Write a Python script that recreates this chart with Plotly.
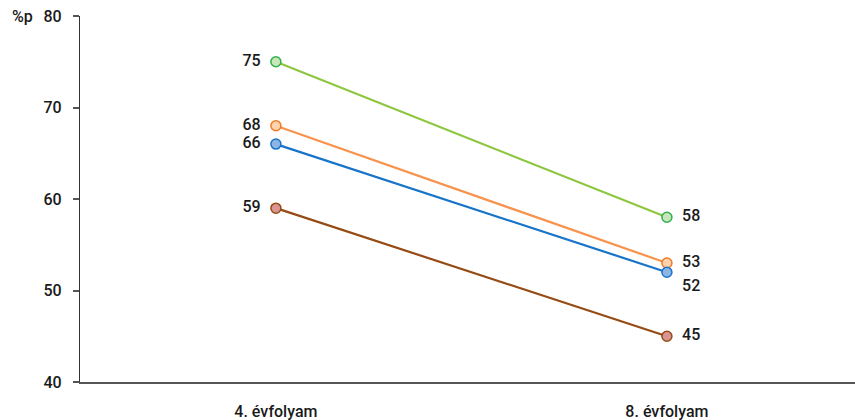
import plotly.graph_objects as go

# Grade levels on the x axis and the score (%p) per group
grades = ["4. évfolyam", "8. évfolyam"]
series_green = [75, 58]
series_orange = [68, 53]
series_blue = [66, 52]
series_brown = [59, 45]

y_ticks = [40, 50, 60, 70, 80]

styles = [
    (series_green, "#8DC63F", "#C9E6B8", "#2EB04E", ["middle left", "middle right"]),
    (series_orange, "#F7934C", "#FDD3AE", "#F07A23", ["middle left", "middle right"]),
    (series_blue, "#1874C8", "#8DB4E3", "#1874C8", ["middle left", "bottom right"]),
    (series_brown, "#964B14", "#D99594", "#964B14", ["middle left", "middle right"]),
]

FONT = dict(family="Roboto", size=16, color="#1a1a1a", weight=500)
PAD = "\u00a0\u00a0"

fig = go.Figure()
xpos = list(range(len(grades)))
for values, line_c, fill_c, edge_c, tpos in styles:
    labels = [str(values[0]) + PAD, PAD + str(values[1])]
    fig.add_trace(go.Scatter(
        x=xpos, y=values,
        mode="lines+markers+text",
        line=dict(color=line_c, width=2.2),
        marker=dict(size=10, color=fill_c, line=dict(color=edge_c, width=1.5)),
        text=labels,
        textposition=tpos,
        textfont=FONT,
        cliponaxis=False,
        showlegend=False,
        hoverinfo="skip",
    ))

fig.add_annotation(
    text="%p", xref="paper", yref="paper", x=-0.058, y=1.0,
    xanchor="right", yanchor="middle", showarrow=False,
    font=FONT,
)

fig.update_layout(
    width=855, height=420,
    margin=dict(l=80, r=0, t=16, b=38),
    paper_bgcolor="white", plot_bgcolor="white",
    font=FONT,
)
fig.update_xaxes(
    range=[-0.501, 1.481],
    tickvals=xpos, ticktext=grades,
    showgrid=False, zeroline=False,
    showline=True, linecolor="#555555", linewidth=2,
    ticks="outside", ticklen=14, tickcolor="rgba(0,0,0,0)",
)
fig.update_yaxes(
    range=[40, 80], tickvals=y_ticks,
    showgrid=False, zeroline=False,
    showline=True, linecolor="#333333", linewidth=1.3,
    ticks="outside", ticklen=6, tickcolor="#555555", tickwidth=2,
    ticklabelstandoff=8,
)

fig.write_html("out.html")
